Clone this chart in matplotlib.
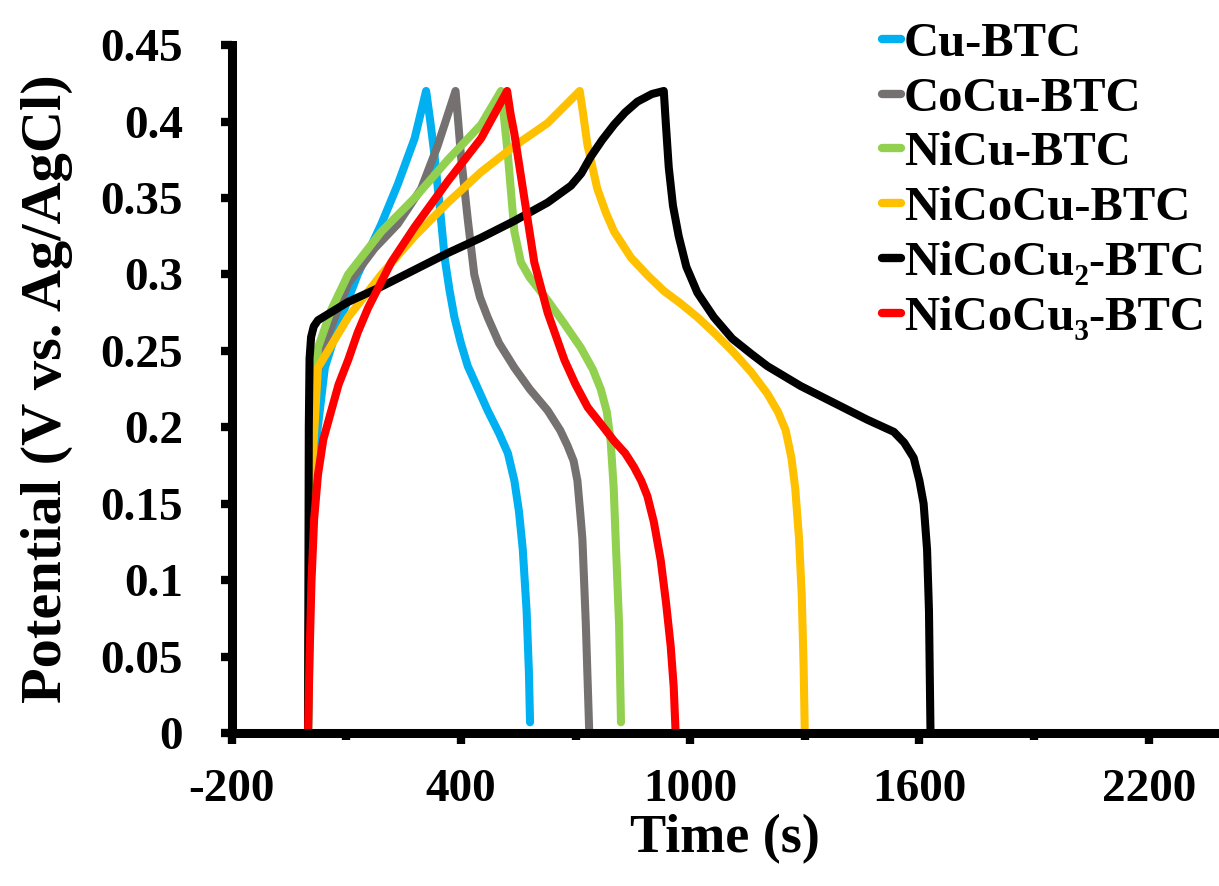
import matplotlib
matplotlib.use('Agg')
import matplotlib.pyplot as plt
from matplotlib.ticker import FixedLocator, FuncFormatter

plt.rcParams['font.family'] = ['Liberation Serif', 'DejaVu Serif']
plt.rcParams['font.weight'] = 'bold'
plt.rcParams['axes.unicode_minus'] = False

# time (s) and potential (V)
cu_t = [0, 8, 17.5, 44, 78, 130, 192, 235, 279, 309, 320, 331, 348, 358, 370, 383, 400, 418, 445, 470, 500, 523, 540, 552, 562, 572, 578, 581]
cu_v = [0, 0.12, 0.183, 0.239, 0.266, 0.300, 0.333, 0.359, 0.389, 0.42, 0.40, 0.378, 0.336, 0.31, 0.29, 0.272, 0.255, 0.24, 0.225, 0.211, 0.196, 0.183, 0.165, 0.145, 0.12, 0.08, 0.04, 0.007]

cocu_t = [0, 5, 20, 40, 61, 105, 174, 235, 296, 339, 386, 393, 400, 418, 435, 450, 470, 500, 540, 580, 627, 660, 679, 695, 705, 712, 718, 727, 736]
cocu_v = [0, 0.15, 0.23, 0.252, 0.266, 0.294, 0.317, 0.333, 0.356, 0.384, 0.42, 0.40, 0.378, 0.336, 0.300, 0.285, 0.272, 0.255, 0.239, 0.225, 0.211, 0.198, 0.188, 0.178, 0.165, 0.145, 0.127, 0.071, 0]

nicu_t = [0, 5, 26, 61, 105, 192, 279, 366, 453, 505, 514, 523, 540, 557, 580, 627, 670, 714, 745, 766, 782, 792, 800, 805, 814, 819]
nicu_v = [0, 0.15, 0.252, 0.277, 0.300, 0.328, 0.350, 0.375, 0.398, 0.42, 0.40, 0.378, 0.328, 0.308, 0.298, 0.283, 0.268, 0.252, 0.238, 0.225, 0.210, 0.191, 0.16, 0.127, 0.071, 0.007]

nicocu_t = [0, 5, 26, 105, 192, 279, 366, 453, 540, 627, 711, 720, 731, 757, 780, 801, 845, 890, 932, 975, 1019, 1062, 1110, 1160, 1202, 1230, 1250, 1265, 1275, 1285, 1292, 1297, 1300]
nicocu_v = [0, 0.15, 0.239, 0.272, 0.300, 0.325, 0.347, 0.367, 0.384, 0.399, 0.42, 0.405, 0.385, 0.356, 0.34, 0.328, 0.311, 0.299, 0.289, 0.281, 0.272, 0.262, 0.250, 0.236, 0.222, 0.21, 0.198, 0.18, 0.16, 0.127, 0.09, 0.043, 0]

nicocu2_t = [0, 1, 2, 4, 8, 15, 26, 105, 192, 279, 366, 453, 540, 627, 688, 715, 740, 770, 801, 830, 862, 900, 931, 936, 944, 955, 970, 990, 1019, 1062, 1110, 1160, 1202, 1289, 1376, 1463, 1533, 1560, 1585, 1600, 1611, 1620, 1625, 1629]
nicocu2_v = [0, 0.1, 0.2, 0.245, 0.259, 0.266, 0.270, 0.282, 0.292, 0.303, 0.314, 0.324, 0.335, 0.347, 0.358, 0.366, 0.377, 0.388, 0.398, 0.406, 0.413, 0.418, 0.42, 0.40, 0.37, 0.345, 0.325, 0.305, 0.288, 0.272, 0.258, 0.248, 0.240, 0.227, 0.216, 0.205, 0.197, 0.19, 0.18, 0.165, 0.15, 0.12, 0.08, 0]

nicocu3_t = [0, 4, 9, 16, 26, 40, 61, 80, 105, 130, 157, 218, 279, 366, 453, 521, 530, 540, 566, 592, 627, 671, 700, 732, 770, 801, 830, 853, 872, 888, 905, 923, 937, 949, 957, 962]
nicocu3_v = [0, 0.05, 0.099, 0.14, 0.169, 0.192, 0.211, 0.228, 0.244, 0.262, 0.278, 0.308, 0.331, 0.361, 0.389, 0.42, 0.405, 0.392, 0.350, 0.308, 0.275, 0.244, 0.228, 0.213, 0.201, 0.191, 0.183, 0.174, 0.165, 0.155, 0.138, 0.113, 0.085, 0.057, 0.03, 0]

labels = ['Cu-BTC', 'CoCu-BTC', 'NiCu-BTC', 'NiCoCu-BTC', 'NiCoCu\u2082-BTC', 'NiCoCu\u2083-BTC']
colors = ['#00B0F0', '#767171', '#92D050', '#FFC000', '#000000', '#FF0000']
series = [(cu_t, cu_v), (cocu_t, cocu_v), (nicu_t, nicu_v),
          (nicocu_t, nicocu_v), (nicocu2_t, nicocu2_v), (nicocu3_t, nicocu3_v)]

x_major = [-200, 400, 1000, 1600, 2200]
x_minor = [100, 700, 1300, 1900]

fig = plt.figure(figsize=(12.19, 8.86), dpi=100)
ax = fig.add_axes([0.190, 0.1727, 0.810, 0.7764])

for (t, v), c, lab in zip(series, colors, labels):
    ax.plot(t, v, color=c, lw=5.8, label=lab, solid_capstyle='round', solid_joinstyle='round')

ax.set_xlim(-200, 2384)
ax.set_ylim(0, 0.45)
ax.xaxis.set_major_locator(FixedLocator(x_major))
ax.xaxis.set_minor_locator(FixedLocator(x_minor))
ax.yaxis.set_major_locator(FixedLocator([i * 0.05 for i in range(10)]))
ax.yaxis.set_major_formatter(FuncFormatter(lambda v, p: '%g' % round(v, 2)))

for s in ['top', 'right']:
    ax.spines[s].set_visible(False)
for s in ['left', 'bottom']:
    ax.spines[s].set_linewidth(6.5)
    ax.spines[s].set_clip_on(False)

ax.tick_params(axis='y', which='major', direction='out', length=8, width=6, labelsize=34, pad=27)
ax.tick_params(axis='x', which='major', direction='out', length=8, width=6, labelsize=34, pad=18)
ax.tick_params(axis='x', which='minor', direction='out', length=5, width=6)

ax.set_xlabel('Time (s)', fontsize=39, fontweight='bold', labelpad=2)
ax.set_ylabel('Potential (V vs. Ag/AgCl)', fontsize=42, fontweight='bold', labelpad=20)

leg = ax.legend(loc='upper left', bbox_to_anchor=(882 / 1219, 1 - 22 / 886),
                bbox_transform=fig.transFigure, frameon=False, fontsize=35,
                handlelength=0.4, handletextpad=0.05, labelspacing=0.22,
                borderpad=0, borderaxespad=0)
for line in leg.get_lines():
    line.set_linewidth(6)
    line.set_solid_capstyle('round')

fig.savefig('out.png', dpi=100)
